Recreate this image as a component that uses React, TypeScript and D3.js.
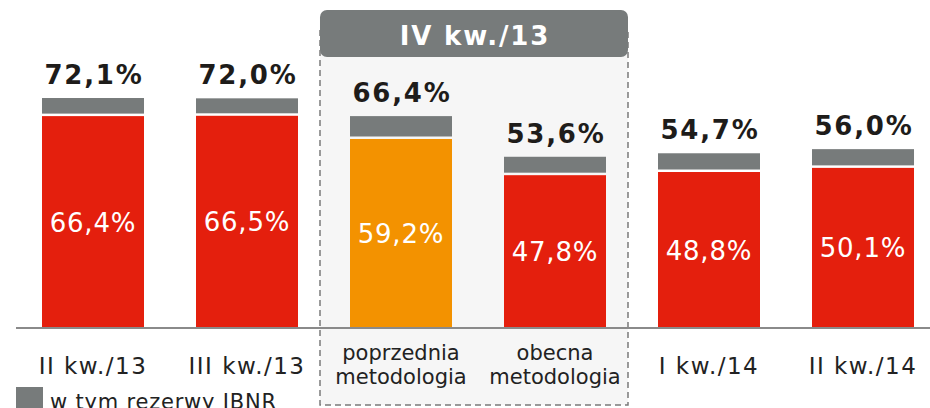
import React, { useEffect, useRef } from 'react';
import * as d3 from 'd3';

// data
const categories = ['II kw./13', 'III kw./13', 'poprzednia\nmetodologia', 'obecna\nmetodologia', 'I kw./14', 'II kw./14'];
const totals = [72.1, 72.0, 66.4, 53.6, 54.7, 56.0];
const baseValues = [66.4, 66.5, 59.2, 47.8, 48.8, 50.1];
const highlighted = [false, false, true, false, false, false];
const groupTitle = 'IV kw./13';
const legendLabel = 'w tym rezerwy IBNR';

const fmt = (v: number) => v.toFixed(1).replace('.', ',') + '%';

const W = 930;
const H = 408;
const FONT = "'DejaVu Sans', Verdana, sans-serif";
const RED = '#e41f0d';
const ORANGE = '#f39200';
const GRAY = '#777b7b';

export default function App() {
  const svgRef = useRef<SVGSVGElement>(null);

  useEffect(() => {
    if (!svgRef.current) return;
    const svg = d3.select(svgRef.current);
    svg.selectAll('*').remove();

    const baseline = 327;
    const x = d3.scaleBand<number>()
      .domain(d3.range(categories.length))
      .range([16, 940])
      .paddingInner(0.3377)
      .paddingOuter(0.1688);
    const y = d3.scaleLinear().domain([0, 100]).range([baseline, baseline - 317.6]);

    // dashed group box around the IV quarter
    const g0 = x(2)! - (x(3)! - x(2)! - x.bandwidth()) / 2 - 4;
    const g1 = x(3)! + x.bandwidth() + 22;
    svg.append('rect')
      .attr('x', g0).attr('y', 30).attr('width', g1 - g0).attr('height', 375)
      .attr('fill', '#f6f6f6')
      .attr('stroke', '#7a7a7a')
      .attr('stroke-width', 1.5)
      .attr('stroke-dasharray', '6,4');
    svg.append('rect')
      .attr('x', g0).attr('y', 10).attr('width', g1 - g0).attr('height', 47)
      .attr('rx', 7)
      .attr('fill', GRAY);
    svg.append('text')
      .attr('x', (g0 + g1) / 2 + 1).attr('y', 45)
      .attr('text-anchor', 'middle')
      .style('font-family', FONT).style('font-weight', 'bold').style('font-size', '26px')
      .style('letter-spacing', '1.8px')
      .attr('fill', '#fff')
      .text(groupTitle);

    // axis line
    svg.append('line')
      .attr('x1', 16).attr('x2', W).attr('y1', baseline + 1).attr('y2', baseline + 1)
      .attr('stroke', '#8a8a8a').attr('stroke-width', 2);

    const idx = d3.range(categories.length);

    // IBNR (top) segments
    svg.selectAll('.top').data(idx).enter().append('rect')
      .attr('x', i => x(i)!)
      .attr('y', i => y(totals[i]))
      .attr('width', x.bandwidth())
      .attr('height', i => y(baseValues[i]) - y(totals[i]) - 2.5)
      .attr('fill', GRAY);

    // base segments
    svg.selectAll('.base').data(idx).enter().append('rect')
      .attr('x', i => x(i)!)
      .attr('y', i => y(baseValues[i]))
      .attr('width', x.bandwidth())
      .attr('height', i => baseline - y(baseValues[i]))
      .attr('fill', i => (highlighted[i] ? ORANGE : RED));

    // total labels
    svg.selectAll('.tot').data(idx).enter().append('text')
      .attr('x', i => x(i)! + x.bandwidth() / 2 + 1)
      .attr('y', i => y(totals[i]) - 14)
      .attr('text-anchor', 'middle')
      .style('font-family', FONT).style('font-weight', 'bold').style('font-size', '26px')
      .style('letter-spacing', '1.8px')
      .attr('fill', '#1e1c1a')
      .text(i => fmt(totals[i]));

    // base labels
    svg.selectAll('.inner').data(idx).enter().append('text')
      .attr('x', i => x(i)! + x.bandwidth() / 2)
      .attr('y', i => (y(baseValues[i]) + baseline) / 2 + 10)
      .attr('text-anchor', 'middle')
      .style('font-family', FONT).style('font-size', '26px')
      .style('letter-spacing', '0.8px')
      .attr('fill', '#fff')
      .text(i => fmt(baseValues[i]));

    // category labels
    idx.forEach(i => {
      const lines = categories[i].split('\n');
      const cx = x(i)! + x.bandwidth() / 2;
      const t = svg.append('text')
        .attr('x', cx)
        .attr('text-anchor', 'middle')
        .style('font-family', FONT)
        .attr('fill', '#222');
      if (lines.length === 1) {
        t.attr('y', 374).style('font-size', '23px').style('letter-spacing', '1.5px').text(lines[0]);
      } else {
        t.style('font-size', '21px');
        lines.forEach((l, k) => {
          t.append('tspan').attr('x', cx).attr('y', 360 + k * 24).text(l);
        });
      }
    });

    // legend
    svg.append('rect').attr('x', 16).attr('y', 387).attr('width', 27).attr('height', 24).attr('fill', GRAY);
    svg.append('text')
      .attr('x', 50).attr('y', 409)
      .style('font-family', FONT).style('font-size', '21px')
      .style('letter-spacing', '0.8px')
      .attr('fill', '#222')
      .text(legendLabel);
  }, []);

  return (
    <svg
      ref={svgRef}
      width={W}
      height={H}
      style={{ position: 'absolute', left: 0, top: 0, background: '#fff', display: 'block' }}
    />
  );
}
